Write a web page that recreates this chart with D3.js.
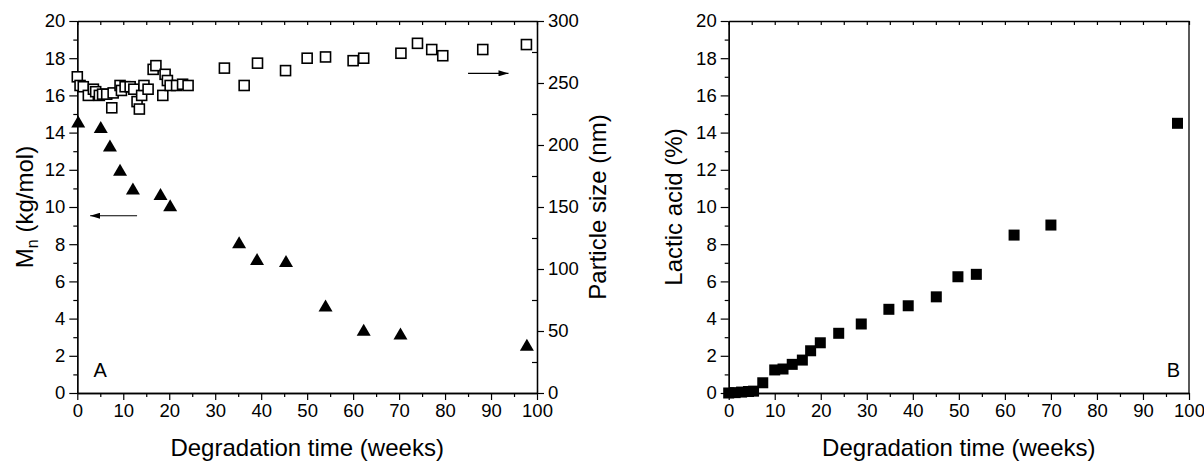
<!DOCTYPE html>
<html><head><meta charset="utf-8">
<script src="https://cdn.jsdelivr.net/npm/d3@7"></script>
<style>
body{margin:0;background:#fff;}
svg text{font-family:Arial,"Liberation Sans",sans-serif;fill:#000;}
</style></head>
<body><svg id="c" width="1204" height="462"></svg>
<script>
// ---- data ----
const weeksMn = [0.2,5.1,7.1,9.3,12.1,18.1,20.2,35.2,39.1,45.4,54,62.3,70.3,97.8];
const mnValues = [14.6,14.3,13.3,12.0,11.0,10.7,10.1,8.1,7.2,7.1,4.7,3.4,3.2,2.6];

const weeksSize = [0,0.6,1.3,2.4,3.5,4,4.8,5.5,6.4,7.5,7.8,9.3,9.6,10.4,11.5,12.3,13,13.5,14,14.5,15.4,16.5,17.1,18.6,19.1,19.6,20.2,21.6,22.9,24.1,
  32,36.3,39.2,45.3,50,54,60,62.3,70.4,74,77.1,79.5,88.2,97.7];
const sizeValues = [255,248,247,240,245,243,240,241,241,230,242,248,244,247,247,245,235,229,240,248,245,261,264,240,257,252,248,248,249,248,
  262,248,266,260,270,271,268,270,274,282,277,272,277,281];

const weeksLA = [0,1.4,2.8,4.3,5.4,7.4,10,11.8,13.8,16,17.8,19.9,23.9,28.8,34.8,39,45.1,49.8,53.8,62,70,97.5];
const laValues = [0,0.02,0.05,0.08,0.1,0.55,1.24,1.29,1.54,1.77,2.27,2.7,3.21,3.71,4.5,4.69,5.17,6.25,6.38,8.49,9.03,14.5];

const xTicks = [0,10,20,30,40,50,60,70,80,90,100];
const xMinor = [5,15,25,35,45,55,65,75,85,95];
const yTicks = [0,2,4,6,8,10,12,14,16,18,20];
const yMinor = [1,3,5,7,9,11,13,15,17,19];
const sizeTicks = [0,50,100,150,200,250,300];
const sizeMinor = [25,75,125,175,225,275];

// ---- layout ----
const svg = d3.select("#c");
const yTop = 21, yBot = 393;
const panels = [{x0:77.3, x1:537},{x0:728.7, x1:1189}];
const FS = 18.5, TS = 24;

function drawAxes(g, x, y){
  const ax = (a)=>a.tickSizeOuter(0);
  g.append("g").attr("transform",`translate(0,${yBot})`)
    .call(ax(d3.axisBottom(x).tickValues(xTicks).tickSize(7).tickPadding(4).tickFormat(d3.format("d"))));
  g.append("g").attr("transform",`translate(0,${yBot})`)
    .call(ax(d3.axisBottom(x).tickValues(xMinor).tickSize(4).tickFormat("")));
  g.append("g").attr("transform",`translate(0,${yTop})`)
    .call(ax(d3.axisTop(x).tickValues(xTicks.concat(xMinor)).tickSize(-4).tickFormat("")));
  g.append("g").attr("transform",`translate(${x.range()[0]},0)`)
    .call(ax(d3.axisLeft(y).tickValues(yTicks).tickSize(8).tickPadding(4).tickFormat(d3.format("d"))));
  g.append("g").attr("transform",`translate(${x.range()[0]},0)`)
    .call(ax(d3.axisLeft(y).tickValues(yMinor).tickSize(4).tickFormat("")));
  g.selectAll(".domain").attr("stroke","#000").attr("stroke-width",1.3);
  g.selectAll(".tick line").attr("stroke","#000").attr("stroke-width",1.2);
  g.selectAll(".tick text").style("font-size",FS+"px").attr("fill","#000");
}

function triPath(){ return "M0,-6L7,6L-7,6Z"; }

// ===== Panel A =====
const gA = svg.append("g");
const xA = d3.scaleLinear().domain([0,100]).range([panels[0].x0, panels[0].x1]);
const yA = d3.scaleLinear().domain([0,20]).range([yBot, yTop]);
const ySz = d3.scaleLinear().domain([0,300]).range([yBot, yTop]);
drawAxes(gA, xA, yA);
const gR = gA.append("g").attr("transform",`translate(${panels[0].x1},0)`);
gR.call(d3.axisRight(ySz).tickValues(sizeTicks).tickSize(7).tickPadding(4).tickSizeOuter(0).tickFormat(d3.format("d")));
gR.append("g").call(d3.axisLeft(ySz).tickValues(sizeMinor).tickSize(5).tickSizeOuter(0).tickFormat(""));
gR.selectAll(".domain").attr("stroke","#000").attr("stroke-width",1.3);
gR.selectAll(".tick line").attr("stroke","#000").attr("stroke-width",1.2);
gR.selectAll(".tick text").style("font-size",FS+"px").attr("fill","#000");

gA.append("g").selectAll("rect").data(weeksSize.map((w,i)=>[w,sizeValues[i]])).join("rect")
  .attr("x",d=>xA(d[0])-5).attr("y",d=>ySz(d[1])-5).attr("width",10).attr("height",10)
  .attr("fill","#fff").attr("stroke","#000").attr("stroke-width",1.6);
gA.append("g").selectAll("path").data(weeksMn.map((w,i)=>[w,mnValues[i]])).join("path")
  .attr("d",triPath()).attr("transform",d=>`translate(${xA(d[0])},${yA(d[1])})`).attr("fill","#000");

const defs = svg.append("defs");
defs.append("marker").attr("id","ah").attr("viewBox","0 0 10 6").attr("refX",10).attr("refY",3)
  .attr("markerWidth",10).attr("markerHeight",6).attr("markerUnits","userSpaceOnUse").attr("orient","auto")
  .append("path").attr("d","M0,0L10,3L0,6Z").attr("fill","#000");
gA.append("line").attr("x1",xA(13)).attr("x2",xA(2.8)).attr("y1",yA(9.53)).attr("y2",yA(9.53))
  .attr("stroke","#000").attr("stroke-width",1.2).attr("marker-end","url(#ah)");
gA.append("line").attr("x1",xA(85)).attr("x2",xA(93.8)).attr("y1",ySz(257.8)).attr("y2",ySz(257.8))
  .attr("stroke","#000").attr("stroke-width",1.2).attr("marker-end","url(#ah)");

gA.append("text").attr("x",xA(5)).attr("y",yA(1.24)).attr("text-anchor","middle").attr("dominant-baseline","central")
  .style("font-size","20px").text("A");

gA.append("text").attr("x",(panels[0].x0+panels[0].x1)/2).attr("y",456).attr("text-anchor","middle")
  .style("font-size",TS+"px").text("Degradation time (weeks)");
const tMn = gA.append("text").attr("transform",`translate(24,${(yTop+yBot)/2}) rotate(-90)`)
  .attr("text-anchor","middle").attr("dominant-baseline","central").style("font-size",TS+"px");
tMn.append("tspan").text("M");
tMn.append("tspan").attr("baseline-shift","sub").style("font-size","16px").text("n");
tMn.append("tspan").text(" (kg/mol)");
gA.append("text").attr("transform",`translate(597,${(yTop+yBot)/2}) rotate(-90)`)
  .attr("text-anchor","middle").attr("dominant-baseline","central").style("font-size",TS+"px").text("Particle size (nm)");

// ===== Panel B =====
const gB = svg.append("g");
const xB = d3.scaleLinear().domain([0,100]).range([panels[1].x0, panels[1].x1]);
const yB = d3.scaleLinear().domain([0,20]).range([yBot, yTop]);
drawAxes(gB, xB, yB);
gB.append("line").attr("x1",panels[1].x1).attr("x2",panels[1].x1).attr("y1",yTop).attr("y2",yBot)
  .attr("stroke","#000").attr("stroke-width",1.3);
gB.append("g").selectAll("rect").data(weeksLA.map((w,i)=>[w,laValues[i]])).join("rect")
  .attr("x",d=>xB(d[0])-5.5).attr("y",d=>yB(d[1])-5.5).attr("width",11).attr("height",11).attr("fill","#000");
gB.append("text").attr("x",xB(96.6)).attr("y",yB(1.24)).attr("text-anchor","middle").attr("dominant-baseline","central")
  .style("font-size","20px").text("B");
gB.append("text").attr("x",(panels[1].x0+panels[1].x1)/2).attr("y",456).attr("text-anchor","middle")
  .style("font-size",TS+"px").text("Degradation time (weeks)");
gB.append("text").attr("transform",`translate(673,${(yTop+yBot)/2}) rotate(-90)`)
  .attr("text-anchor","middle").attr("dominant-baseline","central").style("font-size",TS+"px").text("Lactic acid (%)");
</script></body></html>
